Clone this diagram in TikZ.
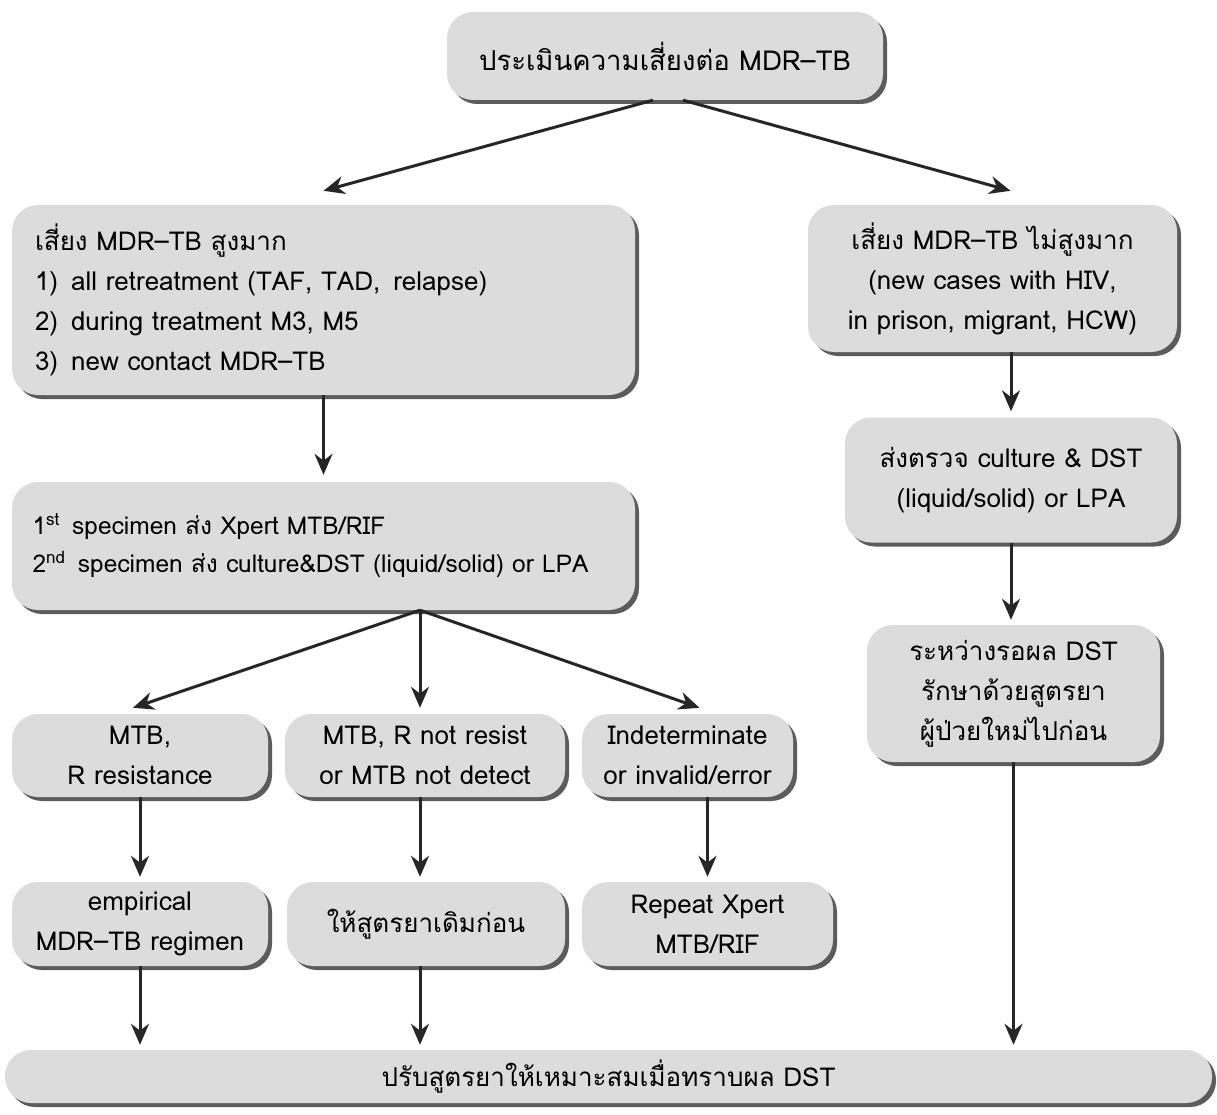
\documentclass[tikz,border=0pt]{standalone}
\usepackage{fontspec}
\setmainfont[Script=Thai]{Loma}
\usetikzlibrary{arrows.meta,shadows}
\definecolor{boxgray}{HTML}{DCDCDD}
\definecolor{shadowgray}{HTML}{5C5C5C}
\tikzset{
    flowbox/.style={fill=boxgray, rounded corners=26pt, inner sep=0pt, align=center,
        font=\fontsize{26}{40}\selectfont,
        drop shadow={shadow xshift=4pt, shadow yshift=-4pt, fill=shadowgray, opacity=1}},
    flowarrow/.style={line width=3pt, draw=black!85, -{Stealth[length=21pt,width=18pt]}}
}
\begin{document}
\begin{tikzpicture}[x=1pt, y=-1pt]
    \useasboundingbox (0,0) rectangle (1217,1115);
    % boxes
    \node[flowbox, minimum width=436pt, minimum height=88pt, font=\fontsize{27.5}{40}\selectfont] (risk) at (665,56) {ประเมินความเสี่ยงต่อ MDR–TB};
    \node[flowbox, minimum width=623pt, minimum height=190pt, text width=577pt, align=left] (high) at (323.5,300)
        {เสี่ยง MDR–TB สูงมาก\\1)\enspace all retreatment (TAF, TAD,\enspace relapse)\\2)\enspace during treatment M3, M5\\3)\enspace new contact MDR–TB};
    \node[flowbox, minimum width=369pt, minimum height=147pt] (low) at (992.5,278.5)
        {เสี่ยง MDR–TB ไม่สูงมาก\\(new cases with HIV,\\in prison, migrant, HCW)};
    \node[flowbox, minimum width=623pt, minimum height=128pt, text width=582pt, align=left, font=\fontsize{24.5}{38}\selectfont] (spec) at (323.5,546)
        {1\textsuperscript{st}\enspace specimen ส่ง Xpert MTB/RIF\\2\textsuperscript{nd}\enspace specimen ส่ง culture\&DST (liquid/solid) or LPA};
    \node[flowbox, minimum width=332pt, minimum height=125pt] (cult) at (1011,480)
        {ส่งตรวจ culture \& DST\\(liquid/solid) or LPA};
    \node[flowbox, minimum width=293pt, minimum height=137pt] (wait) at (1013.5,693.5)
        {ระหว่างรอผล DST\\รักษาด้วยสูตรยา\\ผู้ป่วยใหม่ไปก่อน};
    \node[flowbox, minimum width=256pt, minimum height=83pt] (resist) at (140,755.5) {MTB,\\R resistance};
    \node[flowbox, minimum width=280pt, minimum height=83pt] (noresist) at (425,755.5) {MTB, R not resist\\or MTB not detect};
    \node[flowbox, minimum width=211pt, minimum height=83pt] (indet) at (687.5,755.5) {Indeterminate\\or invalid/error};
    \node[flowbox, minimum width=256pt, minimum height=84pt] (empiric) at (140,924) {empirical\\MDR–TB regimen};
    \node[flowbox, minimum width=278pt, minimum height=84pt] (oldreg) at (426,924) {ให้สูตรยาเดิมก่อน};
    \node[flowbox, minimum width=251pt, minimum height=84pt] (repeat) at (707.5,924) {Repeat Xpert\\MTB/RIF};
    \node[flowbox, minimum width=1207pt, minimum height=53pt] (adjust) at (608.5,1076.5) {ปรับสูตรยาให้เหมาะสมเมื่อทราบผล DST};
    % connectors
    \coordinate (fork) at ([xshift=96.5pt]spec.south);
    \draw[flowarrow] ([xshift=-12pt]risk.south) -- ([yshift=14pt]high.north);
    \draw[flowarrow] ([xshift=18pt]risk.south) -- ([xshift=18pt, yshift=14pt]low.north);
    \draw[flowarrow] (high.south) -- ([yshift=7pt]high.south |- spec.north);
    \draw[flowarrow] (cult.north |- low.south) -- ([yshift=6pt]cult.north);
    \draw[flowarrow] (cult.south) -- ([yshift=5pt]cult.south |- wait.north);
    \draw[flowarrow] (wait.south) -- ([yshift=5pt]wait.south |- adjust.north);
    \draw[flowarrow] (fork) -- ([xshift=-7pt, yshift=6pt]resist.north);
    \draw[flowarrow] (fork) -- ([yshift=6pt]fork |- noresist.north);
    \draw[flowarrow] (fork) -- ([xshift=12pt, yshift=6pt]indet.north);
    \draw[flowarrow] (resist.south) -- ([yshift=5pt]empiric.north);
    \draw[flowarrow] (noresist.south -| fork) -- ([yshift=5pt]fork |- oldreg.north);
    \draw[flowarrow] (repeat.north |- indet.south) -- ([yshift=5pt]repeat.north);
    \draw[flowarrow] (empiric.south) -- ([yshift=5pt]empiric.south |- adjust.north);
    \draw[flowarrow] (oldreg.south -| fork) -- ([yshift=5pt]fork |- adjust.north);
\end{tikzpicture}
\end{document}
